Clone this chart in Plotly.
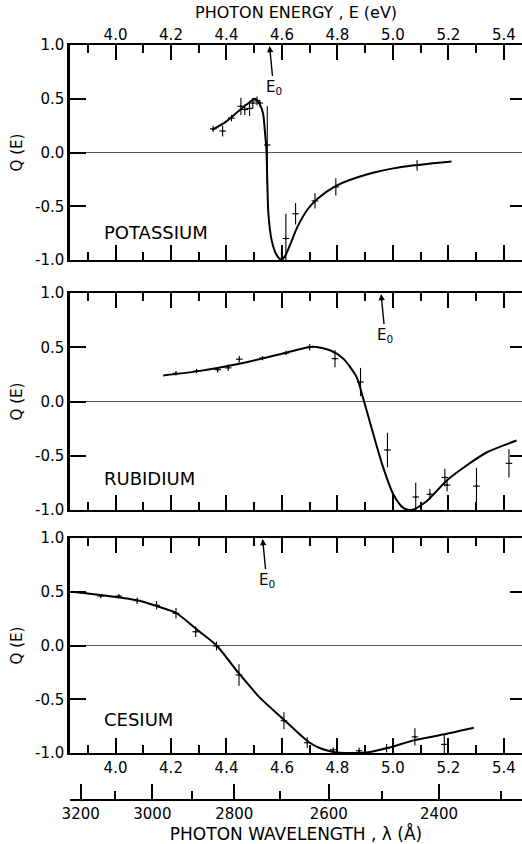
import plotly.graph_objects as go

HC = 12398.4  # eV * Angstrom, converts wavelength ticks to energy

# ---------------- data ----------------
# Potassium
k_curve_E = [4.348, 4.40, 4.45, 4.48, 4.503, 4.520, 4.532, 4.538, 4.544, 4.547, 4.551,
             4.563, 4.580, 4.598, 4.614, 4.632, 4.656, 4.692, 4.728, 4.795, 4.905, 5.025, 5.211]
k_curve_Q = [0.21, 0.29, 0.40, 0.46, 0.50, 0.45, 0.36, 0.21, 0.02, -0.26, -0.57,
             -0.82, -0.95, -1.00, -0.95, -0.84, -0.69, -0.53, -0.43, -0.31, -0.205, -0.137, -0.084]
k_pts_E = [4.352, 4.386, 4.418, 4.452, 4.466, 4.483, 4.495, 4.510, 4.520,
           4.547, 4.598, 4.614, 4.649, 4.719, 4.794, 5.087]
k_pts_Q = [0.22, 0.20, 0.32, 0.43, 0.40, 0.41, 0.46, 0.48, 0.46,
           0.07, -1.16, -0.80, -0.57, -0.45, -0.32, -0.12]
k_pts_err = [0.03, 0.05, 0.03, 0.08, 0.05, 0.07, 0.05, 0.04, 0.03,
             0.36, 0.26, 0.23, 0.10, 0.07, 0.08, 0.05]

# Rubidium
rb_curve_E = [4.172, 4.30, 4.45, 4.60, 4.71, 4.775, 4.821, 4.869, 4.893, 4.929, 4.965,
              5.001, 5.037, 5.067, 5.121, 5.193, 5.265, 5.337, 5.445]
rb_curve_Q = [0.24, 0.28, 0.35, 0.44, 0.505, 0.47, 0.395, 0.225, 0.025, -0.30, -0.61,
              -0.855, -0.98, -1.00, -0.92, -0.73, -0.59, -0.47, -0.36]
rb_pts_E = [4.218, 4.292, 4.368, 4.406, 4.446, 4.530, 4.614, 4.700, 4.791, 4.883,
            4.980, 5.082, 5.133, 5.187, 5.195, 5.301, 5.418]
rb_pts_Q = [0.26, 0.28, 0.293, 0.31, 0.39, 0.40, 0.447, 0.50, 0.395, 0.18,
            -0.447, -0.88, -0.855, -0.70, -0.77, -0.78, -0.57]
rb_pts_err = [0.02, 0.02, 0.025, 0.03, 0.03, 0.02, 0.02, 0.03, 0.08, 0.13,
              0.16, 0.13, 0.05, 0.08, 0.06, 0.17, 0.13]

# Cesium
cs_curve_E = [3.842, 3.945, 4.078, 4.148, 4.220, 4.292, 4.364, 4.445, 4.522, 4.607,
              4.695, 4.738, 4.785, 4.845, 4.905, 4.977, 5.079, 5.185, 5.291]
cs_curve_Q = [0.50, 0.47, 0.42, 0.367, 0.30, 0.15, 0.0, -0.26, -0.49, -0.69,
              -0.895, -0.956, -0.99, -1.00, -0.995, -0.956, -0.88, -0.826, -0.765]
cs_pts_E = [3.884, 3.947, 4.012, 4.078, 4.148, 4.218, 4.289, 4.364, 4.445, 4.607,
            4.691, 4.785, 4.878, 4.977, 5.079, 5.185]
cs_pts_Q = [0.49, 0.46, 0.46, 0.417, 0.374, 0.30, 0.128, -0.005, -0.274, -0.70,
            -0.904, -0.97, -0.98, -0.956, -0.85, -0.92]
cs_pts_err = [0.0, 0.02, 0.02, 0.03, 0.04, 0.05, 0.05, 0.04, 0.10, 0.08,
              0.05, 0.02, 0.03, 0.04, 0.08, 0.09]

panel_names = ["POTASSIUM", "RUBIDIUM", "CESIUM"]
E0_values = [4.555, 4.957, 4.530]

y_tickvals = [1.0, 0.5, 0.0, -0.5, -1.0]
y_ticktext = ["1.0", "0.5", "0.0", "-0.5", "-1.0"]

wl_major = [3200, 3000, 2800, 2600, 2400]
wl_minor = [3100, 2900, 2700, 2500, 2300]

E_RANGE = [3.836, 5.465]

# ---------------- figure ----------------
FONT = "DejaVu Sans"
fig = go.Figure()

panels = [
    ("x3", "y", k_curve_E, k_curve_Q, k_pts_E, k_pts_Q, k_pts_err),
    ("x2", "y2", rb_curve_E, rb_curve_Q, rb_pts_E, rb_pts_Q, rb_pts_err),
    ("x", "y3", cs_curve_E, cs_curve_Q, cs_pts_E, cs_pts_Q, cs_pts_err),
]

for xa, ya, cE, cQ, pE, pQ, pErr in panels:
    fig.add_trace(go.Scatter(
        x=cE, y=cQ, xaxis=xa, yaxis=ya, mode="lines",
        line=dict(color="black", width=2, shape="spline", smoothing=0.7),
        hoverinfo="skip", showlegend=False))
    fig.add_trace(go.Scatter(
        x=pE, y=pQ, xaxis=xa, yaxis=ya, mode="markers",
        marker=dict(color="black", size=2),
        error_y=dict(type="data", array=pErr, visible=True, color="black",
                     thickness=1.1, width=0),
        error_x=dict(type="constant", value=0.012, visible=True, color="black",
                     thickness=1.1, width=0),
        cliponaxis=False, hoverinfo="skip", showlegend=False))

# helper invisible traces so overlay axes are drawn
for xa, ya in [("x3", "y4"), ("x2", "y5"), ("x", "y6"), ("x4", "y3")]:
    fig.add_trace(go.Scatter(x=[4.5], y=[0], xaxis=xa, yaxis=ya, mode="markers",
                             marker=dict(opacity=0), hoverinfo="skip", showlegend=False))

# plot area: y from 45 (top) to 800 (bottom) px
H_TOP, H_BOT = 45, 800
def dom(top_px, bot_px):
    h = H_BOT - H_TOP
    return [(H_BOT - bot_px) / h, (H_BOT - top_px) / h]

ydoms = [dom(45, 260), dom(293, 510), dom(538, 753)]

TICKFONT = dict(family=FONT, size=15, color="black")
TITLEFONT = dict(family=FONT, size=17, color="black")

common_x = dict(
    range=E_RANGE, showgrid=False, zeroline=False,
    ticks="inside", tick0=4.0, dtick=0.2, ticklen=15, tickwidth=1.5, tickcolor="black",
    showline=True, linewidth=2, linecolor="black", mirror="ticks",
    minor=dict(dtick=0.1, tick0=4.0, ticks="inside", ticklen=8, tickwidth=1.5,
               tickcolor="black", showgrid=False),
    tickformat=".1f", tickfont=TICKFONT,
)

fig.update_layout(
    xaxis=dict(common_x, anchor="y3", domain=[0, 1]),
    xaxis2=dict(common_x, anchor="y2", matches="x", showticklabels=False),
    xaxis3=dict(common_x, anchor="y", matches="x", side="top", ticklabelstandoff=-3),
    xaxis4=dict(overlaying="x", anchor="free", position=0, side="bottom",
                range=E_RANGE, showgrid=False, zeroline=False,
                tickmode="array", tickvals=[HC / w for w in wl_major],
                ticktext=[str(w) for w in wl_major],
                ticks="inside", ticklen=15, tickwidth=1.5, tickcolor="black",
                minor=dict(tickmode="array", tickvals=[HC / w for w in wl_minor],
                           ticks="inside", ticklen=8, tickwidth=1.5, tickcolor="black"),
                showline=True, linewidth=2, linecolor="black",
                tickfont=TICKFONT,
                title=dict(text="PHOTON WAVELENGTH , λ (Å)", font=TITLEFONT, standoff=5)),
)

xa_for = {"y": "x3", "y2": "x2", "y3": "x"}
for i, (yname, d) in enumerate(zip(["yaxis", "yaxis2", "yaxis3"], ydoms)):
    key = yname.replace("axis", "")
    fig.layout[yname] = dict(
        domain=d, anchor=xa_for[key], range=[-1, 1], showgrid=False,
        tickmode="array", tickvals=y_tickvals, ticktext=y_ticktext,
        ticks="inside", ticklen=16, tickwidth=1.5, tickcolor="black",
        showline=True, linewidth=2.5, linecolor="black",
        zeroline=True, zerolinecolor="#555555", zerolinewidth=1,
        tickfont=TICKFONT,
        title=dict(text="Q (E)", font=dict(family=FONT, size=15, color="black"), standoff=9),
    )
    ov = ["yaxis4", "yaxis5", "yaxis6"][i]
    fig.layout[ov] = dict(
        overlaying=key, anchor=xa_for[key], side="right", range=[-1, 1],
        showgrid=False, zeroline=False, showline=False, showticklabels=False,
        tickmode="array", tickvals=[0.5, -0.5], ticks="inside", ticklen=12,
        tickwidth=1.5, tickcolor="black",
    )

annotations = [dict(text="PHOTON ENERGY , E (eV)", xref="paper", yref="paper",
                    x=0.5, y=1, yshift=33, xanchor="center", yanchor="middle",
                    showarrow=False, font=dict(family=FONT, size=16, color="black"))]
for name, yref, yval in zip(panel_names, ["y", "y2", "y3"], [-0.74, -0.71, -0.69]):
    annotations.append(dict(text=name, xref="paper", yref=yref, x=0.07, y=yval,
                            xanchor="left", yanchor="middle", showarrow=False,
                            font=dict(family=FONT, size=18, color="black")))
for e0, xref, yref in zip(E0_values, ["x3", "x2", "x"], ["y", "y2", "y3"]):
    annotations.append(dict(text="E<sub>0</sub>", xref=xref, yref=yref, x=e0, y=1.0,
                            ax=4, ay=42, showarrow=True, arrowhead=2, arrowsize=0.9,
                            arrowwidth=1.4, arrowcolor="black", standoff=1,
                            font=dict(family=FONT, size=15, color="black")))

fig.update_layout(
    annotations=annotations,
    width=522, height=844,
    margin=dict(l=70, r=0, t=45, b=44, pad=0),
    paper_bgcolor="white", plot_bgcolor="white",
    font=dict(family=FONT, color="black"),
    showlegend=False,
)

fig.write_html("out.html")
